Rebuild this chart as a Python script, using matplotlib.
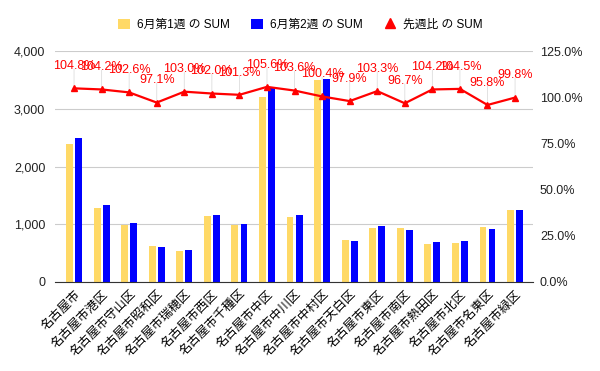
import numpy as np
import matplotlib
matplotlib.use("Agg")
import matplotlib.pyplot as plt
from matplotlib.patches import Patch
from matplotlib.lines import Line2D
from matplotlib.ticker import FuncFormatter

plt.rcParams['font.family'] = ['Liberation Sans', 'Noto Sans CJK JP', 'DejaVu Sans']

# --- DATA ---
wards = ["名古屋市", "名古屋市港区", "名古屋市守山区", "名古屋市昭和区", "名古屋市瑞穂区",
         "名古屋市西区", "名古屋市千種区", "名古屋市中区", "名古屋市中川区", "名古屋市中村区",
         "名古屋市天白区", "名古屋市東区", "名古屋市南区", "名古屋市熱田区", "名古屋市北区",
         "名古屋市名東区", "名古屋市緑区"]
week1 = [2390, 1280, 990, 624, 537, 1140, 990, 3195, 1120, 3505,
         725, 938, 932, 662, 680, 955, 1250]
week2 = [2500, 1335, 1016, 606, 553, 1163, 1003, 3374, 1160, 3520,
         710, 969, 901, 690, 710, 915, 1248]
ratio = [104.8, 104.2, 102.6, 97.1, 103.0, 102.0, 101.3, 105.6, 103.6, 100.4,
         97.9, 103.3, 96.7, 104.2, 104.5, 95.8, 99.8]

label_w1 = "6月第1週 の SUM"
label_w2 = "6月第2週 の SUM"
label_ratio = "先週比 の SUM"

c_yellow = "#FFD966"
c_blue = "#0000FF"
c_red = "#FF0000"

# --- PLOT ---
fig = plt.figure(figsize=(6, 3.71), dpi=100)
ax = fig.add_axes([0.0917, 0.2399, 0.7966, 0.6226])
x = np.arange(len(wards))
w = 0.25
ax.bar(x - 0.165, week1, width=w, color=c_yellow, zorder=2)
ax.bar(x + 0.165, week2, width=w, color=c_blue, zorder=2)

ax.set_ylim(0, 4000)
ax.set_xlim(-0.69, len(wards) - 1 + 0.65)
ax.set_yticks([0, 1000, 2000, 3000, 4000])
ax.yaxis.set_major_formatter(FuncFormatter(lambda v, p: f"{int(v):,}"))
ax.grid(axis='y', color='#cccccc', linewidth=0.8, zorder=0)
for s in ['top', 'right', 'left']:
    ax.spines[s].set_visible(False)
ax.spines['bottom'].set_color('#333333')
ax.tick_params(axis='y', length=0, labelsize=9, pad=7, colors='#222222')
ax.tick_params(axis='x', length=0, pad=4)
ax.set_xticks(x)
ax.set_xticklabels(wards, rotation=45, ha='right', rotation_mode='anchor',
                   fontsize=9, family=['Noto Sans CJK JP', 'DejaVu Sans'])

ax2 = ax.twinx()
ax2.set_ylim(0, 125)
ax2.set_yticks([0, 25, 50, 75, 100, 125])
ax2.yaxis.set_major_formatter(FuncFormatter(lambda v, p: f"{v:.1f}%"))
ax2.tick_params(axis='y', length=0, labelsize=9, pad=5, colors='#222222')
for s in ['top', 'right', 'left', 'bottom']:
    ax2.spines[s].set_visible(False)

ax2.plot(x, ratio, color=c_red, linewidth=1.6, marker='^', markersize=4, zorder=4)
for xi, r in zip(x, ratio):
    ax2.annotate("", xy=(xi, r), xytext=(0, 16), textcoords='offset points',
                 arrowprops=dict(arrowstyle='-', color='#dddddd', lw=0.6), zorder=1)
    ax2.annotate(f"{r:.1f}%", xy=(xi, r), xytext=(0, 16), textcoords='offset points',
                 ha='center', va='center', color=c_red, fontsize=9, zorder=5)

handles = [Patch(facecolor=c_yellow, edgecolor='none'),
           Patch(facecolor=c_blue, edgecolor='none'),
           Line2D([], [], color=c_red, marker='^', linestyle='none', markersize=7)]
fig.legend(handles, [label_w1, label_w2, label_ratio], loc='center', ncol=3,
           bbox_to_anchor=(0.5, 0.933), frameon=False,
           handlelength=1.0, handleheight=1.0, columnspacing=1.8, handletextpad=0.6,
           prop={'family': ['Liberation Sans', 'Noto Sans CJK JP'], 'size': 8.5})

fig.savefig("out.png", dpi=100)
